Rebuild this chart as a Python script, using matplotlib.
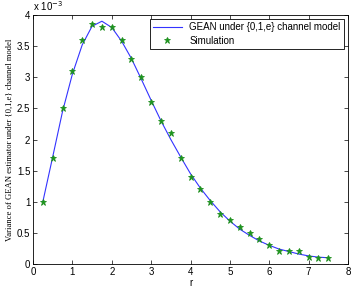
import matplotlib
matplotlib.use("Agg")
import matplotlib.pyplot as plt

# theory curve (GEAN under {0,1,e} channel model), values in units of 1e-3
r_curve = [0.25, 0.5, 0.75, 1.0, 1.25, 1.5, 1.75, 2.0, 2.25, 2.5, 2.75, 3.0,
           3.25, 3.5, 3.75, 4.0, 4.25, 4.5, 4.75, 5.0, 5.25, 5.5, 5.75, 6.0,
           6.25, 6.5, 6.75, 7.0, 7.25, 7.5]
var_curve = [1.0, 1.72, 2.45, 3.05, 3.52, 3.82, 3.9, 3.8, 3.58, 3.3, 2.97, 2.63,
             2.3, 2.0, 1.72, 1.45, 1.22, 1.02, 0.84, 0.69, 0.56, 0.46, 0.37, 0.3,
             0.24, 0.2, 0.16, 0.13, 0.11, 0.1]

# simulation points
r_sim = r_curve
var_sim = [1.0, 1.7, 2.5, 3.1, 3.6, 3.85, 3.8, 3.8, 3.6, 3.3, 3.0, 2.6,
           2.3, 2.1, 1.7, 1.4, 1.2, 1.0, 0.8, 0.7, 0.6, 0.5, 0.4, 0.3,
           0.21, 0.21, 0.21, 0.11, 0.1, 0.1]

plt.rcParams["font.family"] = ["Liberation Sans", "DejaVu Sans"]

fig = plt.figure(figsize=(3.53, 2.88), dpi=100)
ax = fig.add_axes([33 / 353, 24 / 288, 315 / 353, 249 / 288])

ax.plot(r_curve, [v * 1e-3 for v in var_curve], color="#3333ff", lw=0.8,
        label="GEAN under {0,1,e} channel model")
ax.plot(r_sim, [v * 1e-3 for v in var_sim], ls="none", marker="*",
        ms=4.5, color="#1a991a", mec="#1f8f1f", mew=0.6, label="Simulation")

ax.set_xlim(0, 8)
ax.set_ylim(0, 4e-3)
ax.set_xticks(range(0, 9))
ax.set_yticks([i * 0.5e-3 for i in range(9)])
ax.set_yticklabels(["0", "0.5", "1", "1.5", "2", "2.5", "3", "3.5", "4"])
ax.tick_params(direction="in", length=3, width=0.5, labelsize=7, pad=2,
               top=True, right=True)
for s in ax.spines.values():
    s.set_linewidth(0.6)

ax.text(0, 1.01, "x 10$^{-3}$", transform=ax.transAxes, fontsize=7,
        ha="left", va="bottom")
ax.set_xlabel("r", fontsize=7, labelpad=1)
ax.set_ylabel("Variance of GEAN estimator under {0,1,e} channel model",
              fontsize=6.2, family="Liberation Serif", labelpad=2)

leg = ax.legend(loc="upper right", fontsize=7, fancybox=False,
                edgecolor="black", framealpha=1, borderpad=0.3,
                handlelength=3.0, labelspacing=0.35, borderaxespad=0.45)
leg.get_frame().set_linewidth(0.6)

fig.savefig("out.png", dpi=100)
